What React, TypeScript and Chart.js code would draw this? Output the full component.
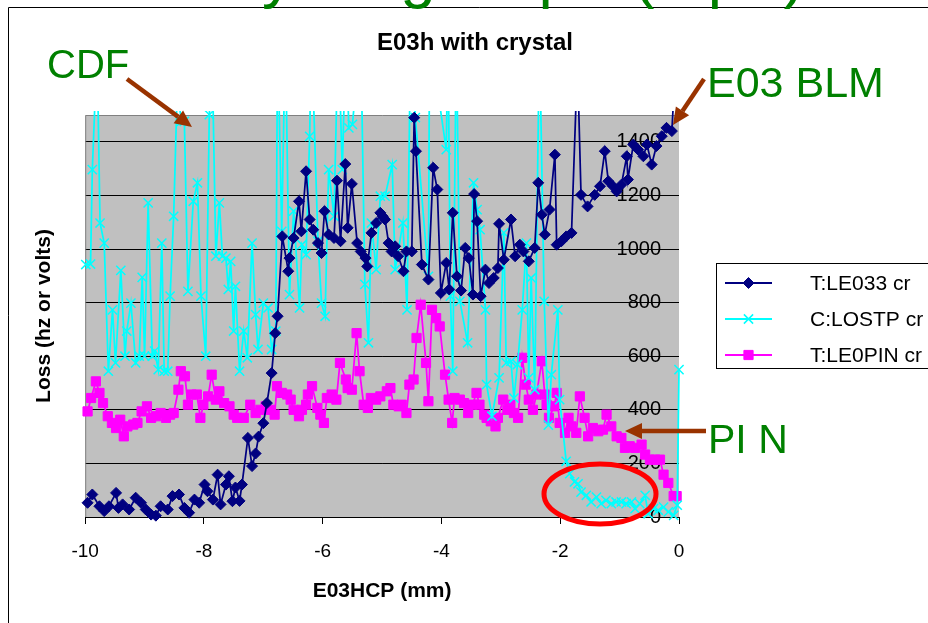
import React, { useEffect, useRef } from 'react';
import { Chart, registerables } from 'chart.js';
import { drawPoint } from 'chart.js/helpers';

Chart.register(...registerables);

// ---------- data ----------
const le033X = [-9.96,-9.88,-9.76,-9.68,-9.6,-9.48,-9.44,-9.37,-9.26,-9.15,-9.06,-8.98,-8.89,-8.81,-8.73,-8.61,-8.53,-8.42,-8.33,-8.25,-8.16,-8.08,-7.99,-7.94,-7.85,-7.77,-7.72,-7.63,-7.58,-7.52,-7.47,-7.4,-7.36,-7.26,-7.19,-7.13,-7.08,-7.0,-6.94,-6.86,-6.8,-6.76,-6.68,-6.58,-6.56,-6.49,-6.4,-6.36,-6.28,-6.22,-6.16,-6.08,-6.02,-5.97,-5.9,-5.81,-5.76,-5.7,-5.62,-5.58,-5.51,-5.42,-5.36,-5.28,-5.25,-5.18,-5.1,-5.03,-4.99,-4.95,-4.89,-4.84,-4.78,-4.73,-4.64,-4.59,-4.5,-4.46,-4.43,-4.33,-4.22,-4.14,-4.07,-4.01,-3.92,-3.87,-3.81,-3.74,-3.67,-3.6,-3.54,-3.47,-3.45,-3.4,-3.34,-3.26,-3.2,-3.12,-3.05,-3.03,-2.95,-2.83,-2.76,-2.68,-2.62,-2.53,-2.43,-2.37,-2.31,-2.26,-2.18,-2.09,-2.06,-1.98,-1.9,-1.81,-1.71,-1.65,-1.54,-1.42,-1.33,-1.25,-1.19,-1.11,-1.05,-0.97,-0.88,-0.86,-0.77,-0.69,-0.6,-0.54,-0.46,-0.38,-0.29,-0.21,-0.12,-0.07];
const le033Y = [53,84,40,22,40,90,34,47,28,72,53,28,9,5,40,28,78,84,34,16,65,53,121,96,65,158,47,121,152,59,110,60,121,295,190,237,300,350,425,537,686,749,1047,917,966,1041,1178,1066,1290,1110,1072,1022,985,1141,1054,1041,1255,1029,1317,1079,1243,1022,991,966,935,1060,1097,1135,1122,1110,1022,991,1010,973,917,991,991,1490,1365,942,886,1303,1222,836,948,849,1135,898,845,1004,966,830,1205,1104,824,923,873,892,929,1094,960,1110,973,1016,991,954,1004,1247,1128,1054,1147,1352,1016,1029,1047,1060,1700,1202,1159,1202,1234,1365,1253,1234,1215,1240,1346,1259,1390,1371,1346,1390,1315,1384,1421,1452,1440,1650];

const lostpX = [-9.99,-9.91,-9.88,-9.8,-9.75,-9.68,-9.61,-9.54,-9.49,-9.4,-9.33,-9.3,-9.23,-9.15,-9.09,-9.04,-9.0,-8.94,-8.87,-8.83,-8.77,-8.71,-8.67,-8.61,-8.57,-8.51,-8.45,-8.38,-8.33,-8.27,-8.18,-8.11,-8.05,-7.97,-7.91,-7.86,-7.8,-7.74,-7.69,-7.63,-7.59,-7.55,-7.5,-7.47,-7.4,-7.33,-7.27,-7.19,-7.13,-7.09,-7.0,-6.92,-6.86,-6.79,-6.76,-6.69,-6.63,-6.56,-6.49,-6.39,-6.35,-6.28,-6.22,-6.19,-6.08,-6.02,-5.96,-5.9,-5.81,-5.74,-5.67,-5.61,-5.56,-5.5,-5.36,-5.29,-5.23,-5.18,-5.1,-5.03,-4.95,-4.83,-4.78,-4.65,-4.58,-4.52,-4.44,-4.22,-4.2,-3.92,-3.89,-3.85,-3.81,-3.75,-3.69,-3.56,-3.46,-3.4,-3.35,-3.26,-3.24,-3.15,-3.03,-2.95,-2.91,-2.83,-2.78,-2.72,-2.64,-2.57,-2.53,-2.49,-2.43,-2.35,-2.27,-2.2,-2.15,-2.04,-2.01,-1.9,-1.84,-1.76,-1.7,-1.65,-1.56,-1.48,-1.39,-1.31,-1.23,-1.14,-1.06,-0.97,-0.89,-0.8,-0.74,-0.66,-0.57,-0.52,-0.43,-0.35,-0.26,-0.18,-0.09,-0.03,0];
const lostpY = [942,944,1296,1750,1097,1022,544,773,575,920,600,694,798,575,600,894,600,1172,600,619,550,1022,544,544,824,1122,1600,1476,1476,842,1178,1247,824,600,1501,1700,973,1172,973,966,849,954,694,861,544,694,594,1022,755,625,798,780,625,694,1800,1066,1800,830,1141,780,1016,979,1420,1800,1029,798,749,1296,1122,1800,1296,1800,1452,1465,1800,868,650,1097,923,1197,1197,1315,923,1097,773,1800,1490,898,1800,1371,1800,824,544,1800,805,650,1247,1147,1072,773,494,376,519,1060,575,581,444,569,773,1022,519,892,475,1800,805,343,531,773,438,208,162,131,124,93,81,56,74,50,62,50,56,56,50,56,31,50,81,12,31,25,37,19,6,44,550];

const le0pinX = [-9.96,-9.9,-9.82,-9.76,-9.7,-9.62,-9.55,-9.48,-9.41,-9.35,-9.29,-9.19,-9.12,-9.05,-8.96,-8.89,-8.81,-8.73,-8.64,-8.57,-8.51,-8.43,-8.39,-8.32,-8.27,-8.21,-8.12,-8.06,-8.01,-7.93,-7.87,-7.8,-7.74,-7.66,-7.57,-7.5,-7.44,-7.33,-7.22,-7.13,-7.05,-6.96,-6.88,-6.81,-6.77,-6.69,-6.6,-6.54,-6.49,-6.4,-6.35,-6.28,-6.25,-6.18,-6.09,-6.04,-5.98,-5.93,-5.85,-5.77,-5.71,-5.61,-5.58,-5.51,-5.43,-5.38,-5.31,-5.24,-5.19,-5.1,-5.03,-4.92,-4.86,-4.81,-4.72,-4.67,-4.59,-4.54,-4.47,-4.42,-4.35,-4.26,-4.22,-4.16,-4.09,-4.03,-3.94,-3.88,-3.82,-3.78,-3.69,-3.62,-3.55,-3.48,-3.41,-3.36,-3.28,-3.24,-3.17,-3.09,-3.05,-2.96,-2.89,-2.84,-2.78,-2.71,-2.64,-2.58,-2.53,-2.46,-2.4,-2.31,-2.26,-2.23,-2.19,-2.1,-2.06,-2.01,-1.92,-1.86,-1.81,-1.73,-1.67,-1.59,-1.53,-1.45,-1.36,-1.28,-1.22,-1.14,-1.05,-0.97,-0.91,-0.83,-0.74,-0.63,-0.57,-0.49,-0.4,-0.32,-0.26,-0.18,-0.09,-0.04];
const le0pinY = [394,444,506,463,425,376,351,332,363,301,338,345,351,394,413,370,376,388,370,382,388,475,544,525,419,457,457,370,419,450,531,438,469,425,413,382,370,370,419,388,400,413,400,382,488,463,457,438,400,376,400,419,457,488,407,382,351,444,457,438,575,513,481,475,686,544,419,407,444,438,450,469,481,419,413,419,388,494,513,668,792,575,432,773,742,711,531,438,351,444,438,425,388,419,463,419,382,370,357,338,370,438,400,419,388,370,594,494,438,400,457,581,457,419,370,413,463,351,314,370,338,314,450,370,301,332,320,326,382,338,301,295,258,264,258,270,233,214,214,214,158,127,78,78];

const seriesNames = ['T:LE033 cr', 'C:LOSTP cr', 'T:LE0PIN cr'];
const seriesColors = ['#000080', '#00ffff', '#ff00ff'];
const seriesMarkers = ['rectRot', 'crossRot', 'rect'];
const xTicks = [-10, -8, -6, -4, -2, 0];
const yTicks = [0, 200, 400, 600, 800, 1000, 1200, 1400];
const chartTitle = 'E03h with crystal';
const xTitle = 'E03HCP (mm)';
const yTitle = 'Loss (hz or volts)';
const slideTitleParts = ['Secondary', 'edge', 'step', '(top', 'level)'];
const calloutCDF = 'CDF';
const calloutBLM = 'E03 BLM';
const calloutPIN = 'PI N';

const FONT = '"Liberation Sans", Arial, Helvetica, sans-serif';
const W = 950;
const H = 623;

function pts(xs: number[], ys: number[]) {
  return xs.map((x, i) => ({ x, y: ys[i] }));
}

function arrow(ctx: CanvasRenderingContext2D, x1: number, y1: number, x2: number, y2: number) {
  const ang = Math.atan2(y2 - y1, x2 - x1);
  const hl = 17;
  const hw = 8;
  const bx = x2 - hl * Math.cos(ang);
  const by = y2 - hl * Math.sin(ang);
  ctx.beginPath();
  ctx.moveTo(x1, y1);
  ctx.lineTo(bx, by);
  ctx.lineWidth = 4.5;
  ctx.stroke();
  ctx.beginPath();
  ctx.moveTo(x2, y2);
  ctx.lineTo(bx + hw * Math.sin(ang), by - hw * Math.cos(ang));
  ctx.lineTo(bx - hw * Math.sin(ang), by + hw * Math.cos(ang));
  ctx.closePath();
  ctx.fill();
}

const decor = {
  id: 'decor',
  beforeDraw(chart: any) {
    const { ctx, chartArea: a } = chart;
    ctx.save();
    ctx.fillStyle = '#ffffff';
    ctx.fillRect(0, 0, chart.width, chart.height);
    ctx.fillStyle = '#c0c0c0';
    ctx.fillRect(a.left, a.top, a.right - a.left, a.bottom - a.top);
    ctx.restore();
  },
  beforeDatasetsDraw(chart: any) {
    const { ctx, chartArea: a } = chart;
    ctx.save();
    ctx.strokeStyle = '#808080';
    ctx.lineWidth = 1;
    ctx.beginPath();
    ctx.moveTo(a.left + 0.5, a.bottom);
    ctx.lineTo(a.left + 0.5, a.top + 0.5);
    ctx.lineTo(a.right, a.top + 0.5);
    ctx.stroke();
    ctx.restore();
  },
  afterDraw(chart: any) {
    const { ctx } = chart;
    ctx.save();
    // outer frame
    ctx.strokeStyle = '#000000';
    ctx.lineWidth = 1;
    ctx.beginPath();
    ctx.moveTo(W, 7.5);
    ctx.lineTo(8.5, 7.5);
    ctx.lineTo(8.5, H);
    ctx.stroke();

    // slide title (mostly above the picture)
    ctx.fillStyle = '#008000';
    ctx.font = `64px ${FONT}`;
    ctx.textBaseline = 'alphabetic';
    const ty = -4;
    ctx.textAlign = 'right';
    ctx.fillText(slideTitleParts[0], 294, ty);
    ctx.textAlign = 'left';
    ctx.fillText(slideTitleParts[1], 329, ty);
    ctx.fillText(slideTitleParts[2], 453, ty);
    ctx.fillText(slideTitleParts[3], 633, ty);
    ctx.textAlign = 'right';
    ctx.fillText(slideTitleParts[4], 805, ty);

    // chart title
    ctx.fillStyle = '#000000';
    ctx.font = `bold 24px ${FONT}`;
    ctx.textAlign = 'center';
    ctx.fillText(chartTitle, 475, 50);

    // legend
    ctx.fillStyle = '#ffffff';
    ctx.fillRect(716.5, 263.5, 280, 105);
    ctx.strokeStyle = '#000000';
    ctx.lineWidth = 1;
    ctx.strokeRect(716.5, 263.5, 280, 105);
    const ly = [283, 319, 355];
    chart.data.datasets.forEach((ds: any, i: number) => {
      ctx.strokeStyle = ds.borderColor;
      ctx.fillStyle = ds.pointBackgroundColor;
      ctx.lineWidth = 2;
      ctx.beginPath();
      ctx.moveTo(725, ly[i]);
      ctx.lineTo(772, ly[i]);
      ctx.stroke();
      ctx.strokeStyle = ds.pointBorderColor;
      ctx.lineWidth = ds.pointBorderWidth;
      drawPoint(ctx, { pointStyle: ds.pointStyle, radius: ds.pointRadius, rotation: 0, borderWidth: ds.pointBorderWidth }, 748.5, ly[i]);
      ctx.fillStyle = '#000000';
      ctx.font = `21px ${FONT}`;
      ctx.textAlign = 'left';
      ctx.textBaseline = 'middle';
      ctx.fillText(ds.label, 810, ly[i] + 1);
    });

    // callouts
    ctx.textBaseline = 'alphabetic';
    ctx.fillStyle = '#008000';
    ctx.textAlign = 'left';
    ctx.font = `40px ${FONT}`;
    ctx.fillText(calloutCDF, 47, 78);
    ctx.font = `43px ${FONT}`;
    ctx.fillText(calloutBLM, 707, 97);
    ctx.font = `41px ${FONT}`;
    ctx.fillText(calloutPIN, 708, 453);

    ctx.strokeStyle = '#993300';
    ctx.fillStyle = '#993300';
    ctx.lineCap = 'butt';
    arrow(ctx, 127, 79, 192, 127);
    arrow(ctx, 704, 79, 673, 125);
    arrow(ctx, 706, 431, 625, 431);

    ctx.strokeStyle = '#ff0000';
    ctx.lineWidth = 5;
    ctx.beginPath();
    ctx.ellipse(600, 494, 56, 30, 0, 0, Math.PI * 2);
    ctx.stroke();
    ctx.restore();
  },
};

export default function App() {
  const ref = useRef<HTMLCanvasElement | null>(null);
  useEffect(() => {
    if (!ref.current) return;
    const mk = (i: number, data: any, radius: number, bw: number) => ({
      label: seriesNames[i],
      data,
      showLine: true,
      borderColor: seriesColors[i],
      backgroundColor: seriesColors[i],
      pointBackgroundColor: seriesColors[i],
      pointBorderColor: seriesColors[i],
      pointStyle: seriesMarkers[i],
      pointRadius: radius,
      pointBorderWidth: bw,
      borderWidth: 1.75,
      clip: { left: 10, top: 4, right: 10, bottom: 10 },
      xAxisID: 'x',
      yAxisID: 'y',
    });
    const chart = new Chart(ref.current, {
      type: 'scatter',
      data: {
        datasets: [
          mk(0, pts(le033X, le033Y), 5.5, 1),
          mk(1, pts(lostpX, lostpY), 6.5, 1.5),
          mk(2, pts(le0pinX, le0pinY), 6.5, 1),
        ],
      },
      options: {
        animation: false,
        responsive: false,
        devicePixelRatio: 1,
        events: [],
        layout: { padding: { left: 20, right: 271, top: 115, bottom: 15 } },
        plugins: { legend: { display: false }, title: { display: false }, tooltip: { enabled: false } },
        scales: {
          x: {
            type: 'linear',
            position: 'bottom',
            min: -10,
            max: 0,
            afterBuildTicks: (s: any) => { s.ticks = xTicks.map((v) => ({ value: v })); },
            ticks: { color: '#000', font: { family: FONT, size: 19 }, padding: 16, callback: (v: any) => String(v) },
            grid: { drawOnChartArea: false, drawTicks: true, tickLength: 7, tickColor: '#000', color: '#000' },
            border: { display: true, color: '#000', width: 1 },
            title: { display: true, text: xTitle, color: '#000', font: { family: FONT, size: 21, weight: 'bold' }, padding: { top: 0, bottom: 4 } },
          },
          y: {
            type: 'linear',
            position: 'right',
            min: 0,
            max: 1500,
            afterBuildTicks: (s: any) => { s.ticks = yTicks.map((v) => ({ value: v })); },
            ticks: { mirror: true, padding: -18, color: '#000', font: { family: FONT, size: 20 }, callback: (v: any) => String(v) },
            grid: { drawTicks: false, color: '#000', lineWidth: 1 },
            border: { display: false },
          },
          yTitle: {
            type: 'linear',
            position: 'left',
            min: 0,
            max: 1500,
            ticks: { display: false },
            grid: { display: false, drawTicks: false },
            border: { display: false },
            title: { display: true, text: yTitle, color: '#000', font: { family: FONT, size: 21, weight: 'bold' }, padding: { top: 12, bottom: 28 } },
          },
        },
      },
      plugins: [decor],
    } as any);
    return () => chart.destroy();
  }, []);
  return (
    <div style={{ position: 'fixed', left: 0, top: 0, width: 928, height: 623, overflow: 'hidden', background: '#fff' }}>
      <canvas ref={ref} width={W} height={H} style={{ display: 'block', width: W, height: H }} />
    </div>
  );
}
